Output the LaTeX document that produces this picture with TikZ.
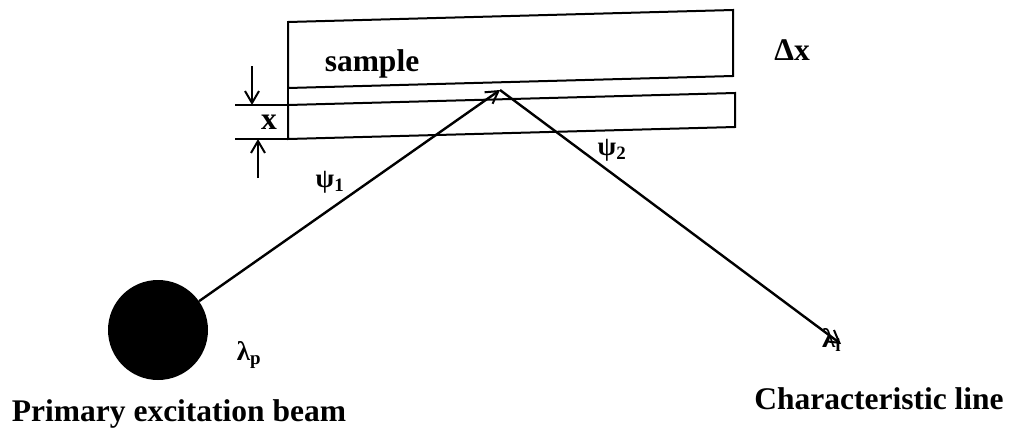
\documentclass[tikz,border=0pt]{standalone}
\usepackage{fontspec}
\setmainfont{Liberation Serif}
\usetikzlibrary{arrows.meta}
\begin{document}
\begin{tikzpicture}[x=1pt,y=-1pt,
  lbl/.style={font=\bfseries\fontsize{31.5}{34}\selectfont, inner sep=0pt},
  glbl/.style={font=\bfseries\fontsize{27}{30}\selectfont, inner sep=0pt},
  ray/.style={line width=2.4pt},
  edge/.style={line width=2pt},
  tip/.style={-{Straight Barb[length=12pt,width=14pt,line width=2pt]}}]
\useasboundingbox (0,0) rectangle (1010,437);
% sample box (slightly tilted, as scanned)
\coordinate (tl) at (288,22);  \coordinate (tr) at (733,10);
\coordinate (al) at (288,88);  \coordinate (ar) at (733,76);
\coordinate (bl) at (288,105); \coordinate (br) at (735,93);
\coordinate (cl) at (288,139); \coordinate (cr) at (735,127);
\draw[edge] (tl) -- (tr) -- (ar) -- (al) -- cycle;
\draw[edge] (bl) -- (br) -- (cr) -- (cl) -- cycle;
\draw[edge] (al) -- (bl);
\node[lbl] (sample) at (372,64) {sample};
\node[lbl] (dx) at (792,50) {Δx};
% thickness dimension
\coordinate (e1a) at (235,105);
\coordinate (e2a) at (235,139);
\draw[edge] (e1a) -- (bl);
\draw[edge] (e2a) -- (cl);
\coordinate (d1) at (252,66);
\coordinate (d1e) at (252,105);
\coordinate (d2) at (258,178);
\coordinate (d2e) at (258,139);
\draw[edge,tip] (d1) -- (d1e);
\draw[edge,tip] (d2) -- (d2e);
\node[lbl] (xl) at (269,122) {x};
% beam source
\node[circle, fill=black, minimum size=100pt, inner sep=0pt] (src) at (158,330) {};
\coordinate (apex) at (500,90);
\coordinate (det) at (841,344);
\draw[ray,tip] (src) -- (apex);
\draw[ray,tip] (apex) -- (det);
\node[glbl] (psi1) at (330,182) {ψ\textsubscript{1}};
\node[glbl] (psi2) at (612,150) {ψ\textsubscript{2}};
\node[glbl] (lp) at (249,355) {λ\textsubscript{p}};
\node[glbl, anchor=west] (li) at (822,340) {λ\textsubscript{i}};
\node[lbl] (prim) at (179,414) {Primary excitation beam};
\node[lbl] (char) at (879,399) {Characteristic line};
\end{tikzpicture}
\end{document}
